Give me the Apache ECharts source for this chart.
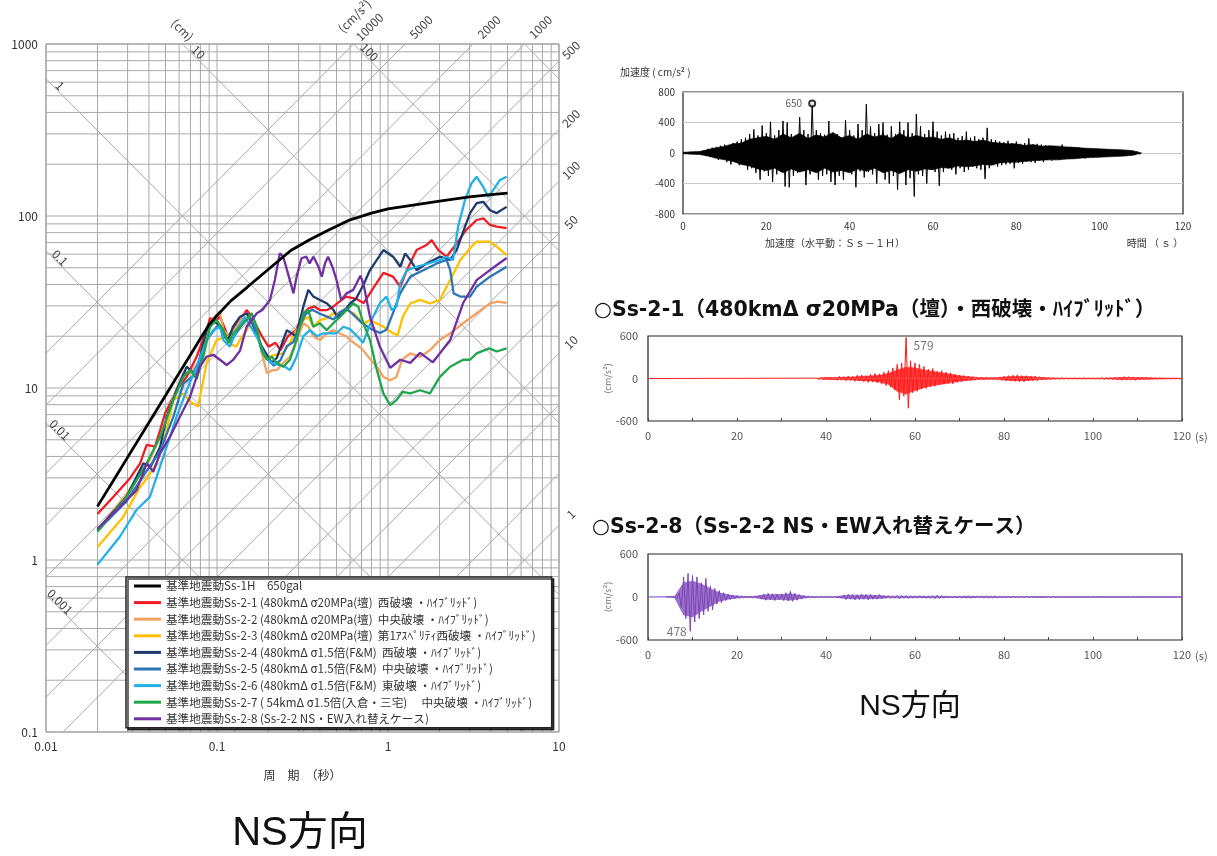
<!DOCTYPE html>
<html><head><meta charset="utf-8">
<script src="https://cdn.jsdelivr.net/npm/echarts@6.0.0/dist/echarts.min.js"></script>
<style>html,body{margin:0;padding:0;background:#fff}#c{width:1217px;height:856px}</style>
</head><body><div id="c"></div>
<script>
const FONT = '"Noto Sans CJK JP","Noto Sans",sans-serif';
const TITLE_FONT = '"DejaVu Sans","Noto Sans CJK JP",sans-serif';
const BIG_FONT = '"Liberation Sans","Noto Sans CJK JP",sans-serif';

// ---------------- response spectra (period s, velocity cm/s) ----------------
const seriesNames = [
  '基準地震動Ss-1H　650gal',
  '基準地震動Ss-2-1 (480kmΔ σ20MPa(壇)  西破壊 ・ﾊｲﾌﾞﾘｯﾄﾞ)',
  '基準地震動Ss-2-2 (480kmΔ σ20MPa(壇)  中央破壊 ・ﾊｲﾌﾞﾘｯﾄﾞ)',
  '基準地震動Ss-2-3 (480kmΔ σ20MPa(壇)  第1ｱｽﾍﾟﾘﾃｨ西破壊 ・ﾊｲﾌﾞﾘｯﾄﾞ)',
  '基準地震動Ss-2-4 (480kmΔ σ1.5倍(F&M)  西破壊 ・ﾊｲﾌﾞﾘｯﾄﾞ)',
  '基準地震動Ss-2-5 (480kmΔ σ1.5倍(F&M)  中央破壊 ・ﾊｲﾌﾞﾘｯﾄﾞ)',
  '基準地震動Ss-2-6 (480kmΔ σ1.5倍(F&M)  東破壊 ・ﾊｲﾌﾞﾘｯﾄﾞ)',
  '基準地震動Ss-2-7 ( 54kmΔ σ1.5倍(入倉・三宅)　 中央破壊 ・ﾊｲﾌﾞﾘｯﾄﾞ)',
  '基準地震動Ss-2-8 (Ss-2-2 NS・EW入れ替えケース)'
];

const ss1h = [[0.02,2.05],[0.025,2.94],[0.03,3.95],[0.04,6.3],[0.05,9.05],[0.06,12.2],[0.07,15.6],[0.08,19.4],[0.09,23.4],[0.1,26.4],[0.12,32],[0.15,38.5],[0.2,49],[0.27,63],[0.35,73],[0.45,83],[0.6,95],[0.8,104],[1.0,110],[1.5,117],[2.0,122],[3.0,129],[4.0,133],[5.0,136]];

const ss21 = [[0.02,1.85],[0.0248,2.33],[0.031,2.99],[0.0355,3.65],[0.0388,4.67],[0.0434,4.56],[0.0465,5.7],[0.0497,7.13],[0.0543,8.5],[0.058,9.7],[0.0665,11.6],[0.076,15.2],[0.087,21.7],[0.091,25.4],[0.0996,24.8],[0.104,26],[0.116,20],[0.124,21.7],[0.136,24.8],[0.149,28.4],[0.16,25.9],[0.183,20],[0.2,17.4],[0.22,18.3],[0.235,16.6],[0.26,20],[0.29,21.7],[0.32,27.2],[0.342,29],[0.37,29.8],[0.4,28.4],[0.44,28.4],[0.48,29.8],[0.52,31.8],[0.57,34],[0.65,33],[0.72,31.2],[0.857,40.7],[0.94,46.7],[1.07,44.4],[1.18,38.8],[1.29,48.5],[1.47,63.4],[1.68,67.8],[1.8,72.4],[1.97,63.4],[2.2,58],[2.52,69.3],[2.87,83],[3.3,94.8],[3.61,97],[3.95,88.7],[4.32,86.7],[4.94,84.9]];

const ss22 = [[0.02,1.48],[0.0296,2.43],[0.0405,3.84],[0.0486,5.7],[0.0555,8.9],[0.0636,12.2],[0.0727,12.7],[0.0832,15.9],[0.0931,24.8],[0.104,27.8],[0.109,21.7],[0.119,20],[0.13,22.7],[0.145,27.2],[0.158,26],[0.171,21.7],[0.183,15.9],[0.196,12.2],[0.21,12.7],[0.224,12.7],[0.244,14],[0.267,15.2],[0.292,19],[0.32,23.8],[0.342,22.7],[0.366,20],[0.4,19],[0.44,20.8],[0.48,21.7],[0.52,20.8],[0.57,20],[0.6,19],[0.7,17],[0.857,13.3],[0.94,11.6],[1.03,11.1],[1.12,11.6],[1.21,14.6],[1.35,15.9],[1.54,15.2],[1.76,16.6],[2.01,19],[2.31,20.8],[2.75,23.8],[3.3,27.2],[3.95,31],[4.32,31.8],[4.94,31.3]];

const ss23 = [[0.02,1.19],[0.0283,1.78],[0.0355,2.66],[0.0388,2.97],[0.0444,3.65],[0.0508,5.7],[0.0555,8.5],[0.0636,9.3],[0.07,8.3],[0.0775,7.8],[0.083,11],[0.087,14],[0.0996,19],[0.114,20],[0.12,18],[0.13,17.4],[0.136,19],[0.149,21.7],[0.16,24.8],[0.171,21],[0.183,16.6],[0.2,15.2],[0.22,15.6],[0.244,15.9],[0.267,18.3],[0.292,21.7],[0.32,24.8],[0.342,25.9],[0.366,22.7],[0.4,24.8],[0.44,25.5],[0.48,27.2],[0.52,27],[0.57,28.4],[0.63,27.2],[0.72,23.8],[0.785,24.8],[0.94,22.7],[1.07,20.8],[1.14,20.3],[1.22,26],[1.35,31],[1.54,32.5],[1.76,31],[2.01,32.5],[2.31,42.5],[2.65,55.5],[3.02,64.9],[3.3,71],[3.9,71],[4.32,66.4],[4.94,59.3]];

const ss24 = [[0.02,1.5],[0.0296,2.33],[0.0371,3.65],[0.041,3.5],[0.0465,4.56],[0.0508,6.8],[0.058,9.7],[0.0665,13.3],[0.0727,12.2],[0.078,14],[0.087,21.7],[0.0951,24.4],[0.1,23.8],[0.109,21],[0.116,19],[0.124,22.7],[0.136,25.9],[0.149,27.2],[0.16,24],[0.183,17.4],[0.209,14],[0.224,15],[0.244,19],[0.256,21.7],[0.29,20],[0.32,29.8],[0.342,37.2],[0.366,34],[0.4,32.5],[0.44,31],[0.48,28.4],[0.505,25.9],[0.545,27.2],[0.6,31],[0.65,33],[0.72,40],[0.785,48.5],[0.94,63.4],[1.07,58],[1.18,50.7],[1.26,60.6],[1.35,55.5],[1.47,48.5],[1.68,53],[2.01,58],[2.31,55.5],[2.52,63.4],[2.82,86.7],[3.02,104],[3.3,119],[3.61,121],[3.95,108],[4.32,104],[4.94,113]];

const ss25 = [[0.02,1.48],[0.0296,2.2],[0.0388,3.3],[0.0465,4.3],[0.0555,6.8],[0.0636,10.6],[0.076,12.2],[0.087,19],[0.0996,22.7],[0.104,23],[0.112,19.5],[0.12,18.5],[0.13,21],[0.145,24.5],[0.155,26],[0.168,22],[0.183,16.5],[0.2,14.5],[0.215,13.5],[0.235,14.5],[0.256,17.5],[0.28,18.5],[0.3,22],[0.33,27],[0.36,28.5],[0.4,27],[0.44,26],[0.48,25],[0.52,27.5],[0.57,29],[0.62,27],[0.7,24],[0.8,22],[0.898,20.9],[0.98,21.8],[1.08,28],[1.18,35.6],[1.35,44.4],[1.62,48.5],[1.93,53],[2.2,55.5],[2.31,48.5],[2.42,35.5],[2.65,34],[3.02,34],[3.3,38.8],[3.95,44.4],[4.94,50.7]];

const ss26 = [[0.02,0.94],[0.0271,1.37],[0.0339,1.96],[0.0405,2.33],[0.0444,3.05],[0.0508,4.56],[0.058,6.8],[0.0665,9.7],[0.076,13.3],[0.087,19],[0.0951,21.7],[0.104,22.7],[0.109,19],[0.119,17.4],[0.13,21.7],[0.146,25.9],[0.175,19],[0.191,15.2],[0.209,14],[0.25,13.3],[0.267,12.7],[0.292,15.2],[0.32,20],[0.35,21.7],[0.383,20],[0.419,20.8],[0.5,20.8],[0.548,22.7],[0.6,22],[0.66,20],[0.714,18.3],[0.817,25.9],[0.898,31.2],[0.98,34],[1.05,28.4],[1.12,29.7],[1.18,40.7],[1.29,48.5],[1.47,50.7],[1.76,53.3],[2.01,55.5],[2.2,58],[2.4,55.5],[2.57,86.7],[2.82,124],[3.08,155],[3.3,169],[3.6,148],[3.86,129],[4.11,141],[4.52,162],[4.94,169]];

const ss27 = [[0.02,1.46],[0.0296,2.33],[0.0388,3.65],[0.0465,5.2],[0.0555,8.5],[0.0636,11.6],[0.0696,12.7],[0.076,11.3],[0.0832,15.2],[0.091,22.7],[0.0996,24.8],[0.109,21.7],[0.1164,18.3],[0.1245,20.8],[0.1364,22.7],[0.149,24.8],[0.1595,27.2],[0.1706,22.7],[0.1824,16.6],[0.1954,14.6],[0.2089,15.2],[0.2234,14],[0.2443,13.3],[0.2673,14.6],[0.2924,19],[0.3199,27.2],[0.342,28.4],[0.3656,22.7],[0.4,23.8],[0.4376,21.7],[0.4786,23.8],[0.5236,25.9],[0.5728,28.4],[0.6266,31],[0.67,29.7],[0.7178,23.8],[0.785,19],[0.859,12.8],[0.939,9.3],[1.03,7.96],[1.12,8.5],[1.22,9.5],[1.35,9.3],[1.54,9.7],[1.76,9.3],[2.01,11.6],[2.31,13.3],[2.75,14.6],[3.02,14.6],[3.3,15.9],[3.9,17],[4.32,16.3],[4.94,17]];

const ss28 = [[0.02,1.52],[0.0339,2.55],[0.0388,3.65],[0.0424,3.26],[0.0465,4.17],[0.0531,5.2],[0.0607,6.8],[0.0696,8.9],[0.0796,13.3],[0.087,15.2],[0.0951,15.6],[0.104,14.6],[0.114,13.6],[0.1245,14.6],[0.1364,16.5],[0.149,22.7],[0.171,27.2],[0.184,28.4],[0.204,32.5],[0.218,42.5],[0.233,60.7],[0.244,58],[0.26,46.4],[0.28,35.5],[0.292,44.4],[0.312,56.8],[0.333,58],[0.348,53],[0.367,58],[0.392,50.7],[0.41,44.4],[0.428,53],[0.446,58],[0.473,50.7],[0.5,42.5],[0.532,32.5],[0.573,35.5],[0.626,37.2],[0.69,45],[0.72,40],[0.785,25.9],[0.898,17.3],[1.03,13.1],[1.18,14.6],[1.35,14],[1.54,16],[1.83,14.1],[2.31,19],[2.75,31.2],[3.31,42.5],[3.95,48.5],[4.94,57]];

// tripartite reference values
const accelLineValues = [1,2,5,10,20,50,100,200,500,1000,2000,5000,10000];   // cm/s2
const accelLabelValues = [1,10,50,100,200,500,1000,2000,5000,10000];
const dispLineValues = [0.001,0.01,0.1,1,10,100,1000];                     // cm
const dispLabelValues = [0.001,0.01,0.1,1,10,100];
const gridMantissas = [1,2,3,4,5,6,7,8,9];
const periodDecades = [0.01,0.1,1];
const velDecades = [0.1,1,10,100];

// ---------------- time histories (cm/s2) ----------------
// individual peaks, alternating sign, every 0.5 s
const ss1hAccT0 = 0, ss1hAccDt = 0.5;
const ss1hAcc = [
5,-5,8,-10,12,-15,15,-20,18,-25,
30,-40,55,-50,70,-60,80,-90,95,-80,
110,-120,100,-150,130,-110,150,-160,180,-140,
200,-220,250,-200,310,-260,230,-350,360,-240,
260,-300,410,-380,230,-280,300,-250,420,-440,
400,-450,250,-300,200,-260,470,-230,300,-420,
250,-280,650,-220,300,-350,260,-300,240,-280,
420,-380,220,-420,250,-300,200,-350,430,-220,
300,-280,230,-450,380,-240,300,-320,640,-250,
350,-280,260,-400,380,-230,400,-350,240,-400,
350,-300,250,-480,410,-250,300,-420,400,-330,
260,-570,510,-280,350,-300,250,-400,300,-220,
410,-250,280,-430,230,-250,280,-200,250,-220,
260,-280,200,-200,220,-250,280,-220,200,-180,
220,-200,180,-220,200,-340,330,-200,180,-160,
170,-180,150,-160,140,-150,160,-140,130,-200,
150,-130,120,-140,130,-110,190,-120,110,-130,
120,-100,110,-120,100,-90,95,-100,90,-80,
85,-90,110,-80,75,-70,80,-75,70,-65,
75,-60,60,-70,55,-50,60,-55,50,-45,
50,-40,45,-40,35,-40,35,-30,40,-30,
30,-35,30,-25,30,-25,20,-25,20,-15,
0];
// dense core of the record (upper / lower envelope every 2 s)
const ss1hEnvT0 = 0, ss1hEnvDt = 2;
const ss1hEnvUpper = [10,15,20,45,70, 90,120,130,180,200, 220,180,250,200,260, 190,240,210,270,200, 230,180,250,210,240, 190,260,200,230,200, 210,180,200,160,170, 150,170,140,130,120, 120,100,110,90,95, 90,80,75,65,60, 55,50,45,40,30, 0];
const ss1hEnvLower = [-10,-15,-20,-40,-70, -90,-110,-150,-170,-210, -230,-200,-260,-210,-250, -220,-260,-200,-250,-230, -260,-210,-240,-200,-260, -230,-270,-220,-240,-210, -220,-190,-200,-170,-180, -170,-150,-160,-130,-120, -120,-110,-100,-95,-90, -90,-80,-75,-65,-60, -55,-50,-45,-40,-30, 0];
const ss1hPeak = [31, 650];

const ss21AccT0 = 38, ss21AccDt = 0.5;
const ss21Acc = [
5,-8,15,-12,20,-15,18,-20,15,-25,
30,-20,25,-30,35,-25,30,-40,45,-35,
50,-45,40,-55,60,-50,70,-60,65,-80,
90,-100,110,-120,150,-160,200,-300,220,-250,
579,-420,250,-200,220,-180,200,-150,170,-140,
130,-120,140,-110,100,-90,110,-80,90,-70,
80,-75,60,-55,50,-45,40,-35,35,-30,
25,-20,20,-18,15,-15,12,-10,12,-10,
15,-12,20,-25,30,-35,40,-35,45,-40,
50,-45,40,-45,40,-35,35,-30,35,-30,
25,-20,20,-15,15,-12,10,-10,8,-8,
8,-6,6,-6,5,-5,5,-5,5,-5,
6,-5,5,-5,5,-6,6,-5,8,-8,
10,-10,12,-15,18,-20,22,-25,25,-22,
25,-20,22,-25,20,-18,20,-15,18,-15,
12,-10,10,-8,8,-6,6,-5,5,-5,
4,-4,3,-3,0];
const ss21EnvT0 = 38, ss21EnvDt = 2;
const ss21EnvUpper = [5,15,15,18,20,30,35,45,70,120,160,150,120,100,80,60,40,25,15,10,12,20,30,30,25,15,10,5,4,4,4,4,5,8,15,15,15,12,8,5,3,2];
const ss21EnvLower = [-5,-15,-15,-18,-20,-30,-35,-50,-80,-180,-220,-170,-130,-100,-80,-60,-40,-25,-15,-10,-12,-20,-30,-30,-25,-15,-10,-5,-4,-4,-4,-4,-5,-8,-15,-15,-15,-12,-8,-5,-3,-2];
const ss21Peak = [58, 579];

const ss28AccT0 = 5, ss28AccDt = 0.5;
const ss28Acc = [
3,-5,10,-20,60,-150,280,-300,330,-478,
300,-350,280,-300,200,-250,260,-200,150,-180,
120,-100,90,-80,60,-50,40,-35,30,-25,
20,-15,12,-10,10,-8,8,-8,10,-12,
20,-30,40,-45,50,-40,45,-50,40,-35,
45,-50,60,-55,80,-60,50,-45,35,-30,
20,-15,12,-10,8,-8,6,-6,5,-5,
5,-5,4,-4,5,-5,6,-10,30,-35,
40,-30,35,-40,30,-35,40,-30,35,-40,
35,-30,25,-30,35,-25,20,-15,20,-15,
12,-15,20,-25,20,-15,18,-20,15,-12,
10,-12,15,-10,12,-15,10,-12,15,-20,
25,-20,18,-15,12,-10,8,-8,8,-10,
10,-12,15,-12,15,-18,15,-12,10,-8,
12,-15,15,-12,10,-12,15,-12,10,-8,
6,-5,4,-5,6,-4,5,-5,7,-6,
8,-6,5,-4,4,-5,6,-8,10,-8,
8,-6,5,-4,4,-5,4,-3,3,-4,
4,-3,3,-3,4,-4,3,-3,3,-4,
4,-3,3,-3,4,-3,3,-3,3,-4,
4,-3,3,-3,3,-3,3,-3,4,-4,
3,-3,3,-3,3,-3,3,-3,3,-3,
3,-2,2,-2,2,-2,2,-2,2,-2,0];
const ss28EnvT0 = 4, ss28EnvDt = 2;
const ss28EnvUpper = [0,10,200,220,180,120,60,30,15,8,10,30,35,35,45,25,8,5,4,4,20,25,25,25,20,12,12,12,10,10,12,10,6,8,10,8,8,8,5,4,4,5,6,4,3,3,3,3,3,3,3,3,3,3,3,3,2,2,2];
const ss28EnvLower = [0,-10,-250,-280,-200,-130,-60,-30,-15,-8,-10,-30,-35,-35,-45,-25,-8,-5,-4,-4,-20,-25,-25,-25,-20,-12,-12,-12,-10,-10,-12,-10,-6,-8,-10,-8,-8,-8,-5,-4,-4,-5,-6,-4,-3,-3,-3,-3,-3,-3,-3,-3,-3,-3,-3,-3,-2,-2,-2];
const ss28Peak = [9.5, -478];

// ---------------- styles ----------------
const colors = ['#000000','#ee1c24','#f4a261','#ffc000','#1f3a6e','#2e75b6','#22b0e6','#1fa64a','#7030a0'];
const spectra = [ss1h, ss21, ss22, ss23, ss24, ss25, ss26, ss27, ss28];

// grid lines of the spectrum
const segs = [];
const vLines = [], hLines = [];
periodDecades.forEach(d => gridMantissas.forEach(m => vLines.push(+(m*d).toPrecision(3))));
vLines.push(10);
velDecades.forEach(d => gridMantissas.forEach(m => hLines.push(+(m*d).toPrecision(3))));
hLines.push(1000);
vLines.forEach(t => segs.push([t, 0.1, t, 1000]));
hLines.forEach(v => segs.push([0.01, v, 10, v]));

const L10 = Math.log10, TWO_PI = 2*Math.PI;
function clipDiag(slope, c) {
  let xa, xb;
  if (slope > 0) { xa = Math.max(-2, -1 - c); xb = Math.min(1, 3 - c); }
  else { xa = Math.max(-2, c - 3); xb = Math.min(1, c + 1); }
  if (xa >= xb) return null;
  return [xa, slope*xa + c, xb, slope*xb + c];
}
const diagSegs = [];
accelLineValues.forEach(a => { const s = clipDiag(1, L10(a/TWO_PI)); if (s) diagSegs.push(s.map(v => Math.pow(10, v))); });
dispLineValues.forEach(d => { const s = clipDiag(-1, L10(TWO_PI*d)); if (s) diagSegs.push(s.map(v => Math.pow(10, v))); });

const diagLabels = [];
accelLabelValues.forEach(a => {
  const s = clipDiag(1, L10(a/TWO_PI));
  const top = Math.abs(s[3] - 3) < 1e-9;
  diagLabels.push({p:[Math.pow(10,s[2]), Math.pow(10,s[3])], text:String(a), dx: top?16:12, dy: top?-17:-11, rot: Math.PI/4});
  if (a === 10000) diagLabels.push({p:[Math.pow(10,s[2]), Math.pow(10,s[3])], text:'(cm/s²)', dx:1, dy:-28, rot: Math.PI/4});
});
dispLabelValues.forEach(d => {
  const s = clipDiag(-1, L10(TWO_PI*d));
  const left = Math.abs(s[0] + 2) < 1e-9;
  diagLabels.push({p:[Math.pow(10,s[0]), Math.pow(10,s[1])], text:String(d), dx: left?14:16, dy: left?7:8, rot: -Math.PI/4});
  if (d === 10) diagLabels.push({p:[Math.pow(10,s[0]), Math.pow(10,s[1])], text:'(cm)', dx:0, dy:-14, rot: -Math.PI/4});
});

const wave = (t0, dt, arr) => [[0,0]].concat(arr.map((v,i) => [+(t0 + i*dt).toFixed(2), v]));
const series2 = (t0, dt, arr) => arr.map((v,i) => [+(t0 + i*dt).toFixed(2), v]);

const chart = echarts.init(document.getElementById('c'), null, {renderer:'canvas'});

const logFmt = v => String(+(+v).toPrecision(2));

const lineSegRender = (stroke, width) => (params, api) => {
  const p1 = api.coord([api.value(0), api.value(1)]);
  const p2 = api.coord([api.value(2), api.value(3)]);
  return {type:'line', shape:{x1:p1[0], y1:p1[1], x2:p2[0], y2:p2[1]}, style:{stroke, lineWidth:width}, silent:true};
};

const thAxisLabel = {fontSize:11, color:'#555', fontFamily:FONT};
const thX = (gi) => ({gridIndex:gi, type:'value', min:0, max:120, interval:20,
  axisLine:{show:false, onZero:false}, axisTick:{show:true, inside:true, length:3, lineStyle:{color:'#444'}},
  minorTick:{show:true, splitNumber:2, length:3, lineStyle:{color:'#444'}},
  splitLine:{show:false},
  axisLabel:Object.assign({margin:9}, thAxisLabel),
  name:'(s)', nameLocation:'end', nameGap:1, nameTextStyle:{fontSize:11, color:'#555', verticalAlign:'top', padding:[10,0,0,0]}});

const option = {
  animation: false,
  backgroundColor: '#fff',
  textStyle: {fontFamily: FONT},
  grid: [
    {left:46, top:44, width:513, height:688, show:true, borderColor:'#8a8a8a', borderWidth:1, backgroundColor:'transparent'},
    {left:683, top:92, width:500, height:122, show:true, borderColor:'#222', borderWidth:1.2, backgroundColor:'transparent'},
    {left:648, top:336, width:534, height:85, show:true, borderColor:'#222', borderWidth:1.2, backgroundColor:'transparent'},
    {left:648, top:554, width:534, height:86, show:true, borderColor:'#222', borderWidth:1.2, backgroundColor:'transparent'}
  ],
  xAxis: [
    {gridIndex:0, type:'log', logBase:10, min:0.01, max:10,
     axisLine:{show:false}, axisTick:{show:false}, splitLine:{show:false},
     axisLabel:{formatter:logFmt, fontSize:12, color:'#333', margin:8},
     name:'周　期　（秒）', nameLocation:'middle', nameGap:37, nameTextStyle:{fontSize:12, color:'#333'}},
    {gridIndex:1, type:'value', min:0, max:120, interval:20,
     axisLine:{show:false, onZero:false}, axisTick:{show:false}, splitLine:{show:false},
     axisLabel:{fontSize:10, color:'#333', margin:7}},
    thX(2), thX(3)
  ],
  yAxis: [
    {gridIndex:0, type:'log', logBase:10, min:0.1, max:1000,
     axisLine:{show:false}, axisTick:{show:false}, splitLine:{show:false},
     axisLabel:{formatter:logFmt, fontSize:12, color:'#333', margin:8}},
    {gridIndex:1, type:'value', min:-800, max:800, interval:400,
     axisLine:{show:false}, axisTick:{show:false}, splitLine:{show:true, lineStyle:{color:'#c8c8c8'}},
     axisLabel:{fontSize:10, color:'#333', margin:8}},
    {gridIndex:2, type:'value', min:-600, max:600, interval:600,
     axisLine:{show:false}, axisTick:{show:false}, splitLine:{show:false},
     axisLabel:Object.assign({margin:10}, thAxisLabel),
     name:'(cm/s²)', nameLocation:'middle', nameGap:36, nameRotate:90, nameTextStyle:{fontSize:9, color:'#777'}},
    {gridIndex:3, type:'value', min:-600, max:600, interval:600,
     axisLine:{show:false}, axisTick:{show:false}, splitLine:{show:false},
     axisLabel:Object.assign({margin:10}, thAxisLabel),
     name:'(cm/s²)', nameLocation:'middle', nameGap:36, nameRotate:90, nameTextStyle:{fontSize:9, color:'#777'}}
  ],
  legend: {
    data: seriesNames, orient:'vertical', left:126, top:577,
    icon:'rect', itemWidth:27, itemHeight:3, itemGap:4.6,
    backgroundColor:'#fff', borderColor:'#222', borderWidth:1.5, borderRadius:0,
    padding:[3,16,3,8], selectedMode:false,
    shadowColor:'rgba(0,0,0,0.75)', shadowOffsetX:2, shadowOffsetY:2, shadowBlur:0,
    textStyle:{fontSize:11.6, color:'#333', fontFamily:FONT, lineHeight:12},
    z: 10
  },
  graphic: [
    {type:'text', x:620, y:72, style:{text:'加速度 ( cm/s² )', font:'10px '+FONT, fill:'#333', verticalAlign:'middle'}},
    {type:'text', x:835, y:243, style:{text:'加速度（水平動：Ｓｓ－１Ｈ）', font:'10px '+FONT, fill:'#333', align:'center', verticalAlign:'middle'}},
    {type:'text', x:1155, y:243, style:{text:'時間 （ ｓ ）', font:'10px '+FONT, fill:'#333', align:'center', verticalAlign:'middle'}},
    {type:'text', x:594, y:311, style:{text:'○Ss-2-1（480kmΔ σ20MPa（壇）・西破壊・ﾊｲﾌﾞﾘｯﾄﾞ）', font:'bold 20.5px '+TITLE_FONT, fill:'#111', verticalAlign:'middle'}},
    {type:'text', x:592, y:528, style:{text:'○Ss-2-8（Ss-2-2 NS・EW入れ替えケース）', font:'bold 20.5px '+TITLE_FONT, fill:'#111', verticalAlign:'middle'}},
    {type:'text', x:910, y:707, style:{text:'NS方向', font:'30px '+BIG_FONT, fill:'#111', align:'center', verticalAlign:'middle'}},
    {type:'text', x:300, y:834, style:{text:'NS方向', font:'40px '+BIG_FONT, fill:'#111', align:'center', verticalAlign:'middle'}}
  ],
  series: []
};

// spectrum background grid + tripartite lines + labels
option.series.push({type:'custom', xAxisIndex:0, yAxisIndex:0, data:segs, renderItem:lineSegRender('#a9a9a9', 1), z:1, silent:true, clip:false});
option.series.push({type:'custom', xAxisIndex:0, yAxisIndex:0, data:diagSegs, renderItem:lineSegRender('#a9a9a9', 1), z:1, silent:true, clip:false});
option.series.push({type:'custom', xAxisIndex:0, yAxisIndex:0, clip:false, silent:true, z:1,
  data: diagLabels.map((d,i) => [d.p[0], d.p[1], i]),
  renderItem: (params, api) => {
    const d = diagLabels[api.value(2)];
    const pt = api.coord([api.value(0), api.value(1)]);
    return {type:'text', x:pt[0]+d.dx, y:pt[1]+d.dy, rotation:d.rot,
      style:{text:d.text, fill:'#444', font:'12px '+FONT, align:'center', verticalAlign:'middle'}};
  }});

// spectra: colored first, black last on top
for (let i = 1; i < spectra.length; i++) {
  option.series.push({type:'line', name:seriesNames[i], xAxisIndex:0, yAxisIndex:0, data:spectra[i],
    symbol:'none', showSymbol:false, lineStyle:{color:colors[i], width:2.3}, itemStyle:{color:colors[i]}, z:3});
}
option.series.push({type:'line', name:seriesNames[0], xAxisIndex:0, yAxisIndex:0, data:spectra[0],
  symbol:'none', showSymbol:false, lineStyle:{color:colors[0], width:2.8}, itemStyle:{color:colors[0]}, z:4});

// time histories: dense core band + individual peaks
function addRecord(ax, color, coreOpacity, envT0, envDt, up, lo, t0, dt, acc) {
  [up, lo].forEach(arr => option.series.push({type:'line', xAxisIndex:ax, yAxisIndex:ax, data:series2(envT0, envDt, arr),
    symbol:'none', silent:true, lineStyle:{color, width:0.6, opacity:coreOpacity}, areaStyle:{color, opacity:coreOpacity, origin:0}, z:2}));
  option.series.push({type:'line', xAxisIndex:ax, yAxisIndex:ax, data:wave(t0, dt, acc),
    symbol:'none', sampling:null, silent:true, lineStyle:{color, width:1}, z:3});
}
addRecord(1, '#000', 1, ss1hEnvT0, ss1hEnvDt, ss1hEnvUpper, ss1hEnvLower, ss1hAccT0, ss1hAccDt, ss1hAcc);
addRecord(2, '#ff1a1a', 0.85, ss21EnvT0, ss21EnvDt, ss21EnvUpper, ss21EnvLower, ss21AccT0, ss21AccDt, ss21Acc);
addRecord(3, '#7b44b8', 0.75, ss28EnvT0, ss28EnvDt, ss28EnvUpper, ss28EnvLower, ss28AccT0, ss28AccDt, ss28Acc);

option.series.push({type:'scatter', xAxisIndex:1, yAxisIndex:1, data:[ss1hPeak], symbol:'emptyCircle', symbolSize:6,
  itemStyle:{color:'#000', borderColor:'#000', borderWidth:1}, z:4,
  label:{show:true, position:'left', formatter:p => String(p.value[1]), fontSize:10, color:'#333', distance:6}});
option.series.push({type:'scatter', xAxisIndex:2, yAxisIndex:2, data:[ss21Peak], symbol:'circle', symbolSize:1,
  itemStyle:{color:'rgba(0,0,0,0)'}, z:5,
  label:{show:true, position:'right', offset:[2,8], formatter:p => String(p.value[1]), fontSize:12, color:'#555'}});
option.series.push({type:'scatter', xAxisIndex:3, yAxisIndex:3, data:[ss28Peak], symbol:'circle', symbolSize:1,
  itemStyle:{color:'rgba(0,0,0,0)'}, z:5,
  label:{show:true, position:'left', offset:[2,0], formatter:p => String(Math.abs(p.value[1])), fontSize:12, color:'#555'}});

chart.setOption(option);
</script></body></html>
